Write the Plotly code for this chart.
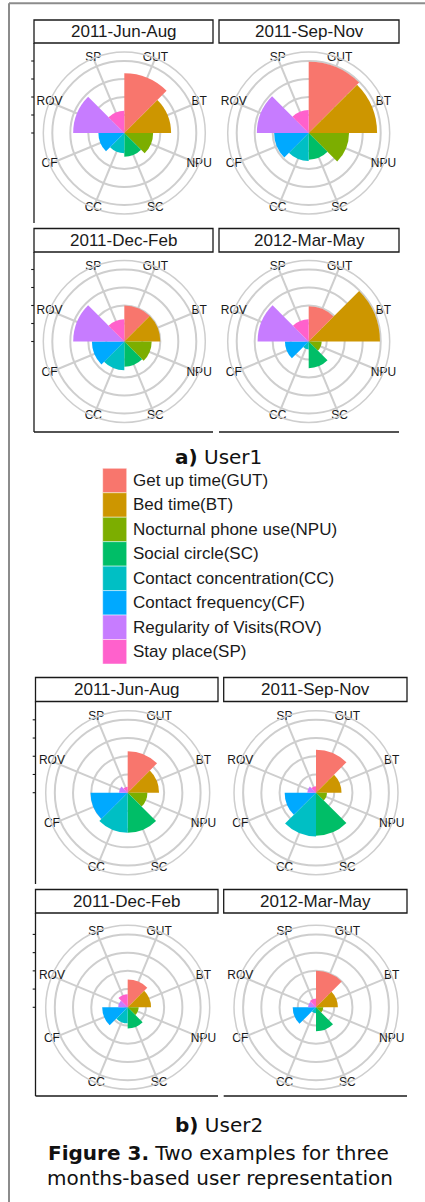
import plotly.graph_objects as go

W, H = 425, 1202

# ---- data -------------------------------------------------------------
categories = ["GUT", "BT", "NPU", "SC", "CC", "CF", "ROV", "SP"]
legend_labels = [
    "Get up time(GUT)", "Bed time(BT)", "Nocturnal phone use(NPU)",
    "Social circle(SC)", "Contact concentration(CC)", "Contact frequency(CF)",
    "Regularity of Visits(ROV)", "Stay place(SP)",
]
colors = ["#F8766D", "#CD9600", "#7CAE00", "#00BE67",
          "#00BFC4", "#00A9FF", "#C77CFF", "#FF61CC"]
seasons = ["2011-Jun-Aug", "2011-Sep-Nov", "2011-Dec-Feb", "2012-Mar-May"]

# User1 feature scores per season (order follows `categories`)
user1_jun_aug = [0.83, 0.65, 0.40, 0.33, 0.28, 0.36, 0.71, 0.31]
user1_sep_nov = [0.99, 0.95, 0.56, 0.37, 0.39, 0.48, 0.72, 0.32]
user1_dec_feb = [0.50, 0.50, 0.38, 0.35, 0.40, 0.45, 0.71, 0.31]
user1_mar_may = [0.49, 0.99, 0.18, 0.37, 0.11, 0.33, 0.71, 0.31]

# User2 feature scores per season
user2_jun_aug = [0.57, 0.43, 0.27, 0.55, 0.55, 0.51, 0.12, 0.08]
user2_sep_nov = [0.59, 0.35, 0.15, 0.59, 0.60, 0.43, 0.12, 0.09]
user2_dec_feb = [0.38, 0.32, 0.15, 0.29, 0.22, 0.35, 0.13, 0.18]
user2_mar_may = [0.50, 0.30, 0.10, 0.33, 0.08, 0.32, 0.11, 0.12]

radial_breaks = [0.0, 0.25, 0.5, 0.75, 1.0]
radial_outer = 1.125          # outer ring (label circle)

# ---- layout geometry (pixels) ------------------------------------------
users = [
    dict(
        values=[user1_jun_aug, user1_sep_nov, user1_dec_feb, user1_mar_may],
        centers=[(124.3, 133.0), (308.7, 133.0), (124.3, 341.5), (308.7, 341.5)],
        radius=81.0,
        strips=[(34, 213, 20, 43), (219, 399, 20, 43),
                (34, 213, 228.5, 252), (219, 399, 228.5, 252)],
        axis_x=34, axis_rows=[(43, 223), (252, 432)],
        bottom_y=432, bottom_spans=[(34, 213), (219, 399)],
    ),
    dict(
        values=[user2_jun_aug, user2_sep_nov, user2_dec_feb, user2_mar_may],
        centers=[(127.7, 792.7), (316.0, 792.7), (127.7, 1007.3), (316.0, 1007.3)],
        radius=82.0,
        strips=[(35.5, 218, 677.5, 701.5), (223.7, 407, 677.5, 701.5),
                (35.5, 218, 889.5, 913), (223.7, 407, 889.5, 913)],
        axis_x=35.5, axis_rows=[(701.5, 884), (913, 1096)],
        bottom_y=1096, bottom_spans=[(35.5, 218), (223.7, 407)],
    ),
]

GRID = "#cecece"
INK = "#1a1a1a"


def px(x):
    return x / W


def py(y):
    return 1 - y / H


fig = go.Figure()
layout_polars = {}
shapes = []
annotations = []

k = 0
for u in users:
    R = u["radius"]
    for i, (vals, (cx, cy)) in enumerate(zip(u["values"], u["centers"])):
        k += 1
        name = "polar" if k == 1 else f"polar{k}"
        fig.add_trace(go.Barpolar(
            r=vals, theta=categories, subplot=name,
            marker=dict(color=colors, line=dict(width=0)),
            showlegend=False, hoverinfo="skip",
        ))
        fig.add_trace(go.Scatterpolar(
            r=[radial_outer] * len(categories), theta=categories, subplot=name,
            mode="text", text=categories, cliponaxis=False,
            textfont=dict(family="Liberation Sans, Arial", size=12, color=INK),
            showlegend=False, hoverinfo="skip",
        ))
        layout_polars[name] = dict(
            domain=dict(x=[px(cx - R), px(cx + R)], y=[py(cy + R), py(cy - R)]),
            bgcolor="rgba(0,0,0,0)",
            bargap=0,
            radialaxis=dict(range=[0, radial_outer], tickvals=radial_breaks[1:],
                            showticklabels=False, ticks="", showline=False,
                            gridcolor=GRID, gridwidth=1.5),
            angularaxis=dict(type="category", categoryarray=categories,
                             rotation=67.5, direction="clockwise",
                             showticklabels=False, ticks="",
                             showline=True, linecolor=GRID, linewidth=1.5,
                             gridcolor=GRID, gridwidth=1.5),
        )
        # facet strip
        x0, x1, y0, y1 = u["strips"][i]
        shapes.append(dict(type="rect", xref="paper", yref="paper",
                           x0=px(x0), x1=px(x1), y0=py(y1), y1=py(y0),
                           line=dict(color=INK, width=1.3), fillcolor="white"))
        annotations.append(dict(xref="paper", yref="paper",
                                x=px((x0 + x1) / 2), y=py((y0 + y1) / 2),
                                text=seasons[i], showarrow=False,
                                xanchor="center", yanchor="middle",
                                font=dict(family="Liberation Sans, Arial", size=17, color=INK)))

    # left axis line with radial ticks
    ax = u["axis_x"]
    for (ya, yb), (cx, cy) in zip(u["axis_rows"], [u["centers"][0], u["centers"][2]]):
        shapes.append(dict(type="line", xref="paper", yref="paper",
                           x0=px(ax), x1=px(ax), y0=py(ya), y1=py(yb),
                           line=dict(color=INK, width=1.3)))
        for b in radial_breaks:
            yt = cy - R * b / radial_outer
            shapes.append(dict(type="line", xref="paper", yref="paper",
                               x0=px(ax - 2.8), x1=px(ax), y0=py(yt), y1=py(yt),
                               line=dict(color=INK, width=1.1)))
    for (xa, xb) in u["bottom_spans"]:
        shapes.append(dict(type="line", xref="paper", yref="paper",
                           x0=px(xa), x1=px(xb), y0=py(u["bottom_y"]), y1=py(u["bottom_y"]),
                           line=dict(color=INK, width=1.3)))

# ---- legend -------------------------------------------------------------
key_x0, key_x1, key_top, key_h = 102.7, 126.7, 468.3, 24.46
for j, (lab, col) in enumerate(zip(legend_labels, colors)):
    ty = key_top + j * key_h
    shapes.append(dict(type="rect", xref="paper", yref="paper",
                       x0=px(key_x0), x1=px(key_x1), y0=py(ty + key_h), y1=py(ty),
                       line=dict(color="rgba(255,255,255,0.45)", width=1), fillcolor=col))
    annotations.append(dict(xref="paper", yref="paper",
                            x=px(130.7), y=py(ty + key_h / 2), text=lab,
                            showarrow=False, xanchor="left", yanchor="middle",
                            font=dict(family="Liberation Sans, Arial", size=17, color=INK)))

# ---- captions -------------------------------------------------------------
cap_font = dict(family="DejaVu Sans, Verdana", size=20, color="#111111")
for txt, xc, yc in [
    ("<b>a)</b> User1", 218, 457),
    ("<b>b)</b> User2", 219, 1125),
    ("<b>Figure 3.</b> Two examples for three", 218.5, 1153),
    ("months-based user representation", 219.5, 1178),
]:
    annotations.append(dict(xref="paper", yref="paper", x=px(xc), y=py(yc),
                            text=txt, showarrow=False, xanchor="center",
                            yanchor="middle", font=cap_font))

# outer page frame (top and left rules)
shapes.append(dict(type="line", xref="paper", yref="paper",
                   x0=px(9), x1=px(W), y0=py(3.3), y1=py(3.3),
                   line=dict(color="#8c8c8c", width=2)))
shapes.append(dict(type="line", xref="paper", yref="paper",
                   x0=px(9), x1=px(9), y0=py(3.3), y1=py(H),
                   line=dict(color="#8c8c8c", width=2)))

fig.update_layout(
    width=W, height=H,
    margin=dict(l=0, r=0, t=0, b=0),
    paper_bgcolor="white", plot_bgcolor="white",
    shapes=shapes, annotations=annotations,
    showlegend=False,
    **layout_polars,
)

fig.write_html("out.html")
